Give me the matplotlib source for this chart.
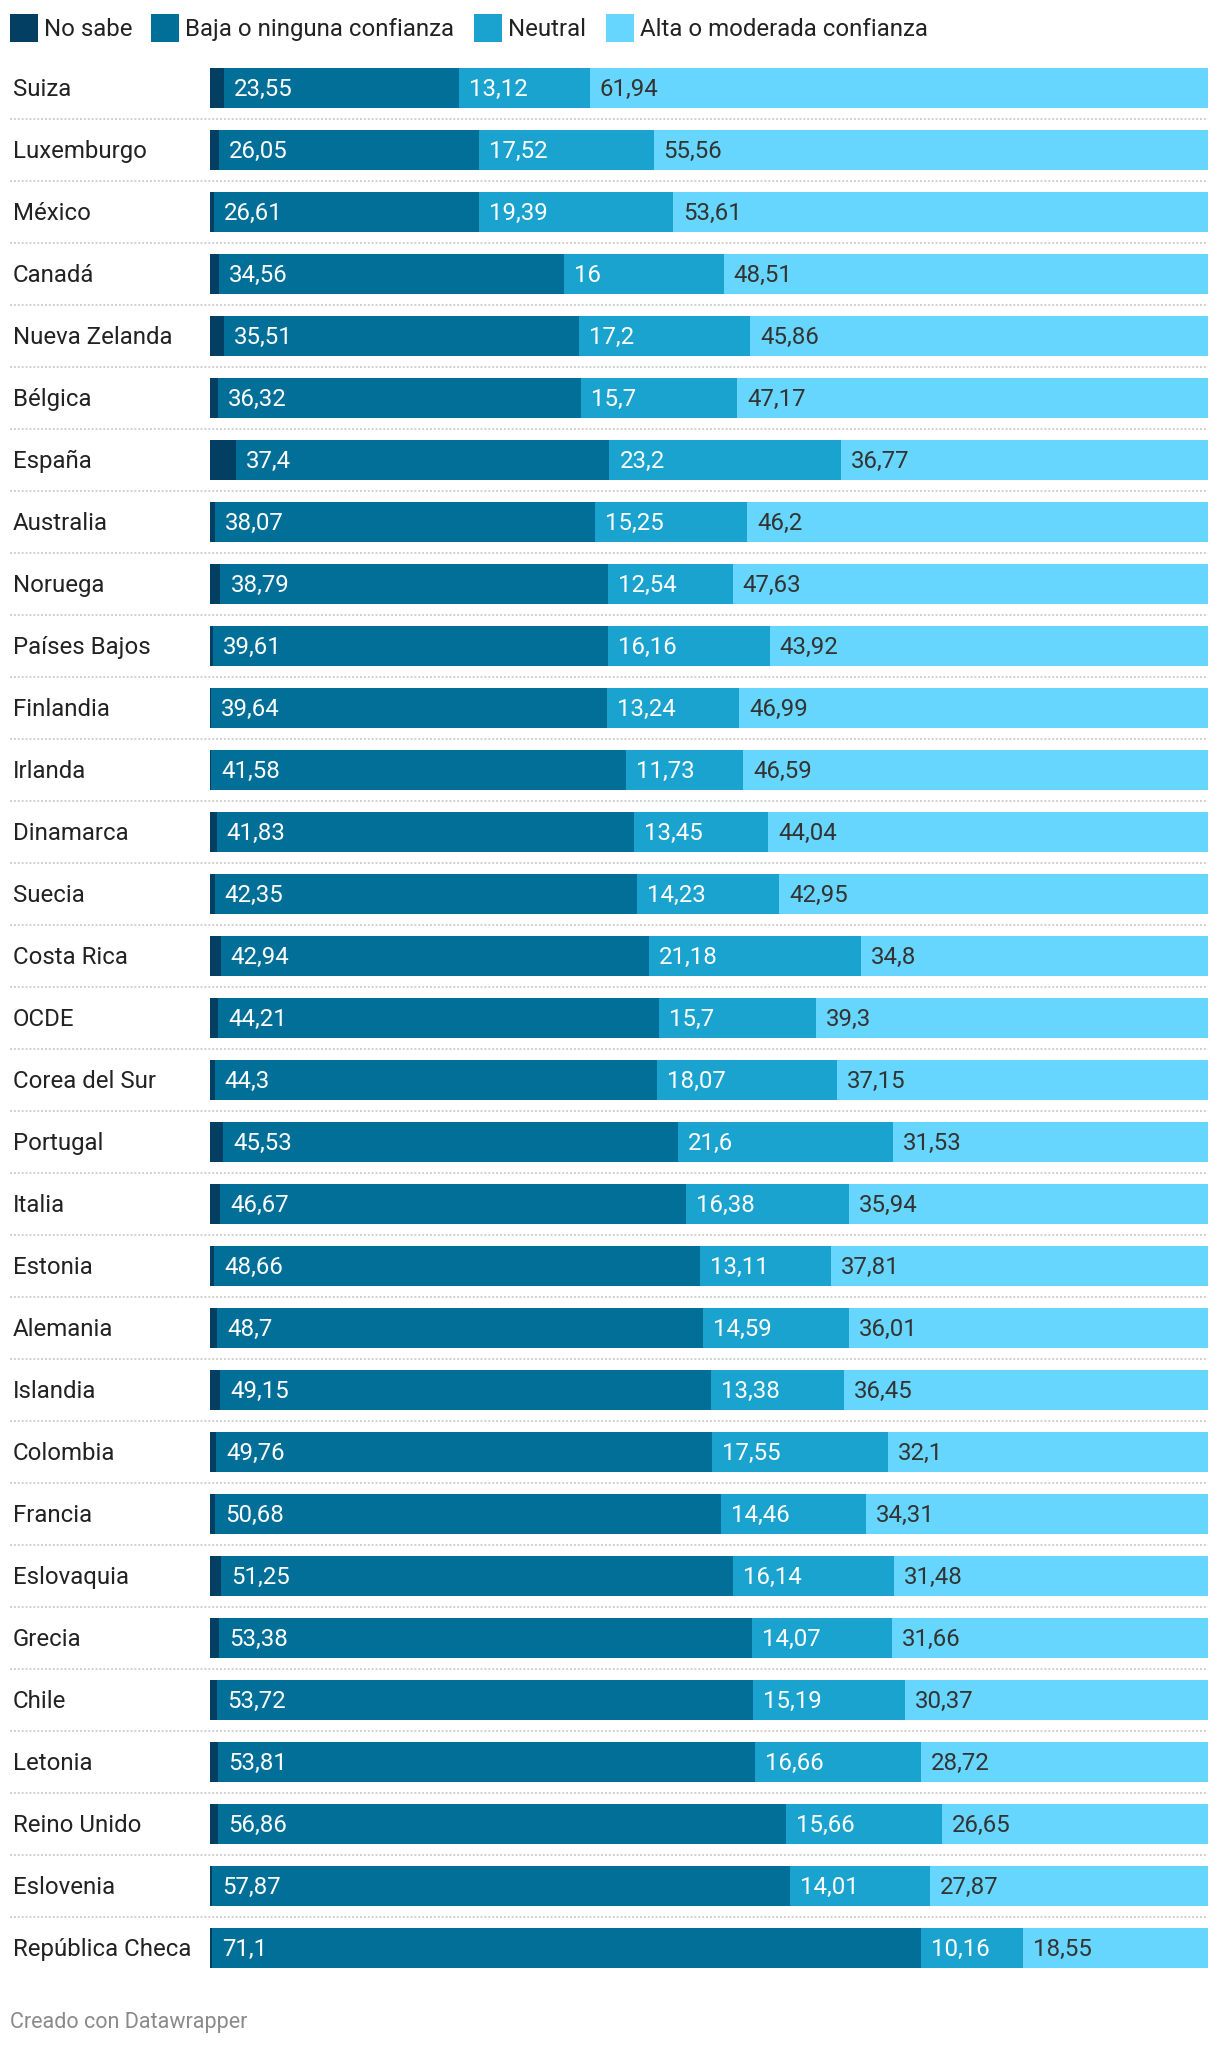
import matplotlib.pyplot as plt
from matplotlib.patches import Rectangle

plt.rcParams['font.family'] = ['Roboto', 'DejaVu Sans']

countries = ['Suiza', 'Luxemburgo', 'México', 'Canadá', 'Nueva Zelanda', 'Bélgica',
             'España', 'Australia', 'Noruega', 'Países Bajos', 'Finlandia', 'Irlanda',
             'Dinamarca', 'Suecia', 'Costa Rica', 'OCDE', 'Corea del Sur', 'Portugal',
             'Italia', 'Estonia', 'Alemania', 'Islandia', 'Colombia', 'Francia',
             'Eslovaquia', 'Grecia', 'Chile', 'Letonia', 'Reino Unido', 'Eslovenia',
             'República Checa']
no_sabe = [1.39, 0.87, 0.39, 0.93, 1.43, 0.81, 2.63, 0.48, 1.04, 0.31, 0.13, 0.1,
           0.68, 0.47, 1.08, 0.79, 0.48, 1.34, 1.01, 0.42, 0.7, 1.02, 0.59, 0.55,
           1.13, 0.89, 0.72, 0.81, 0.83, 0.25, 0.19]
baja = [23.55, 26.05, 26.61, 34.56, 35.51, 36.32, 37.4, 38.07, 38.79, 39.61, 39.64,
        41.58, 41.83, 42.35, 42.94, 44.21, 44.3, 45.53, 46.67, 48.66, 48.7, 49.15,
        49.76, 50.68, 51.25, 53.38, 53.72, 53.81, 56.86, 57.87, 71.1]
neutral = [13.12, 17.52, 19.39, 16, 17.2, 15.7, 23.2, 15.25, 12.54, 16.16, 13.24,
           11.73, 13.45, 14.23, 21.18, 15.7, 18.07, 21.6, 16.38, 13.11, 14.59, 13.38,
           17.55, 14.46, 16.14, 14.07, 15.19, 16.66, 15.66, 14.01, 10.16]
alta = [61.94, 55.56, 53.61, 48.51, 45.86, 47.17, 36.77, 46.2, 47.63, 43.92, 46.99,
        46.59, 44.04, 42.95, 34.8, 39.3, 37.15, 31.53, 35.94, 37.81, 36.01, 36.45,
        32.1, 34.31, 31.48, 31.66, 30.37, 28.72, 26.65, 27.87, 18.55]
series_names = ['No sabe', 'Baja o ninguna confianza', 'Neutral', 'Alta o moderada confianza']
colors = ['#023f63', '#016f97', '#1ba3d0', '#67d6fe']
text_colors = [None, 'white', 'white', '#333333']

W, H = 1220, 2046
fig = plt.figure(figsize=(W / 100, H / 100), dpi=100)
fig.patch.set_facecolor('white')

# axes placed in pixels
x0, x1 = 210, 1208
row_h = 62
top = 88 - row_h / 2
n = len(countries)
ax = fig.add_axes([x0 / W, 1 - (top + n * row_h) / H, (x1 - x0) / W, n * row_h / H])
ax.set_xlim(0, 100)
ax.set_ylim(n - 0.5, -0.5)
ax.axis('off')

bar_h = 40 / row_h
base = 8 / row_h  # baseline offset below bar centre
data = [no_sabe, baja, neutral, alta]
ypos = list(range(n))
left = [0] * n
pad = 10 / (x1 - x0) * 100
for k, vals in enumerate(data):
    ax.barh(ypos, vals, left=left, height=bar_h, color=colors[k], linewidth=0)
    if text_colors[k]:
        for i, v in enumerate(vals):
            lab = f"{v:g}".replace('.', ',')
            ax.text(left[i] + pad, i + base, lab, color=text_colors[k], fontsize=17.3,
                    va='baseline', ha='left')
    left = [l + v for l, v in zip(left, vals)]

lab_x = (13 - x0) / (x1 - x0)
sep_x0 = (10 - x0) / (x1 - x0)
for i, c in enumerate(countries):
    ax.text(lab_x, i + base, c, transform=ax.get_yaxis_transform(), fontsize=17.3,
            color='#222222', va='baseline', ha='left')
    if i < n - 1:
        ax.plot([sep_x0, 1.0], [i + 0.5, i + 0.5], transform=ax.get_yaxis_transform(),
                color='#d0d0d0', linewidth=1.4, linestyle=(0, (1, 1)), clip_on=False)

# legend
leg_x = [10, 151, 474, 606]
for k, name in enumerate(series_names):
    fig.add_artist(Rectangle((leg_x[k] / W, 1 - 42 / H), 28 / W, 28 / H,
                             transform=fig.transFigure, color=colors[k], linewidth=0))
    fig.text((leg_x[k] + 34) / W, 1 - 36 / H, name, fontsize=17.3, color='#222222',
             va='baseline', ha='left')

fig.text(10 / W, 1 - 2028 / H, 'Creado con Datawrapper', fontsize=15.5,
         color='#8a8a8a', va='baseline', ha='left')

fig.savefig('out.png', dpi=100, facecolor='white')
